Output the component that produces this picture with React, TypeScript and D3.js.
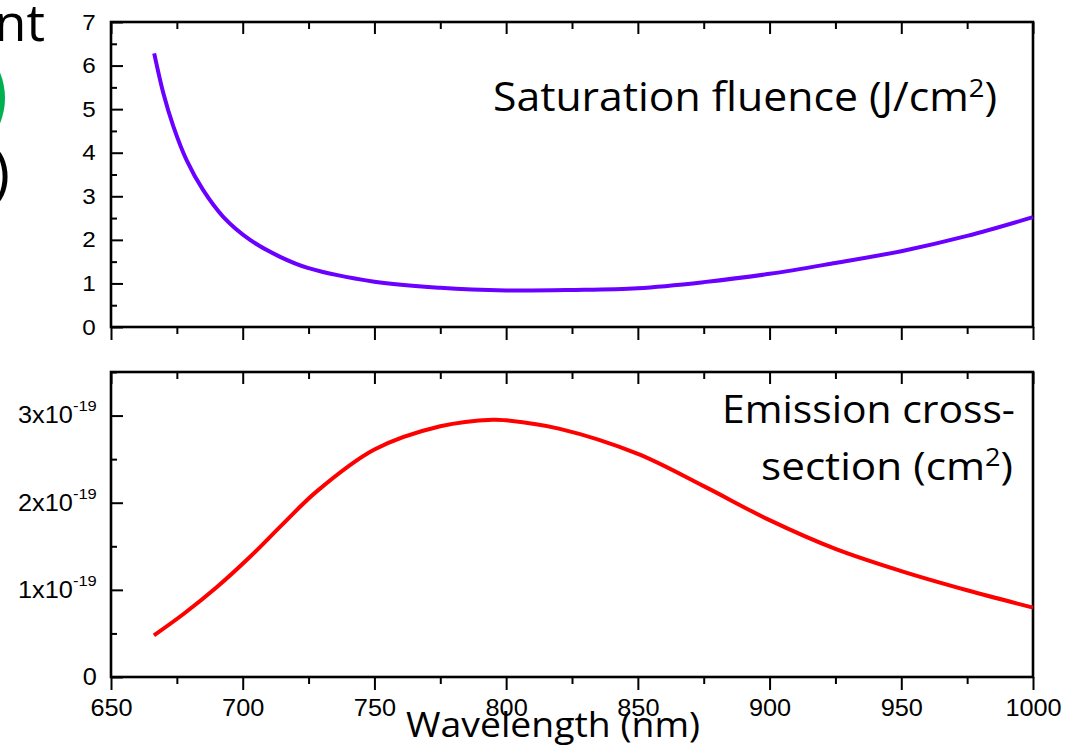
import { useEffect, useRef } from 'react';
import * as d3 from 'd3';

// ---------- data ----------
const satWavelength = [666.4, 669.9, 673.7, 678.7, 685.0, 692.6, 702.8, 714.2, 725, 750, 775, 800, 825, 850, 875, 900, 925, 950, 975, 1000];
const satFluence = [6.28, 5.36, 4.60, 3.83, 3.14, 2.53, 2.00, 1.61, 1.35, 1.04, 0.90, 0.84, 0.85, 0.89, 1.03, 1.22, 1.47, 1.74, 2.09, 2.52];

// emission cross-section, in units of 1e-19 cm^2
const emWavelength = [666.3, 677.4, 690.1, 702.8, 715.4, 728.1, 750, 775, 795, 800, 820, 850, 875, 900, 925, 950, 975, 1000];
const emCross = [0.478, 0.72, 1.03, 1.38, 1.76, 2.13, 2.61, 2.877, 2.953, 2.945, 2.85, 2.56, 2.19, 1.80, 1.47, 1.215, 0.995, 0.796];

const xMajorTicks = [650, 700, 750, 800, 850, 900, 950, 1000];
const xMinorTicks = [675, 725, 775, 825, 875, 925, 975];
const satTicks = [0, 1, 2, 3, 4, 5, 6, 7];
const satMinorTicks = [0.5, 1.5, 2.5, 3.5, 4.5, 5.5, 6.5];
const emTicks = [0, 1, 2, 3];
const emMinorTicks = [0.5, 1.5, 2.5, 3.5];
const emTickLabels = ['0', '1x10', '2x10', '3x10'];
const emTickExponent = '-19';

const App = () => {
    const svgRef = useRef<SVGSVGElement>(null);

    useEffect(() => {
        const svg = d3.select(svgRef.current);
        svg.selectAll('*').remove();

        const width = 1072;
        const height = 749;
        const left = 111;
        const right = 1033;

        svg.append('rect').attr('width', width).attr('height', height).attr('fill', 'white');

        const x = d3.scaleLinear().domain([650, 1000]).range([left, right]);
        const ySat = d3.scaleLinear().domain([0, 7]).range([327, 22]);
        const yEm = d3.scaleLinear().domain([0, 3.5]).range([677, 372]);

        const tickFont = 'Liberation Sans, Arial, sans-serif';
        const titleFont = 'Open Sans, Noto Sans, sans-serif';
        const stretch = 'scale(1.1,1)';

        const styleAxis = (g: any) => {
            g.select('.domain').remove();
            g.selectAll('.tick line').attr('stroke', '#000').attr('stroke-width', 2);
        };

        // ==========================================
        // PANEL AXES
        // ==========================================
        const drawPanel = (y: any, majors: number[], minors: number[], withXLabels: boolean) => {
            const [yBottom, yTop] = y.range();

            // left, inward
            svg.append('g')
                .attr('transform', `translate(${left},0)`)
                .call(d3.axisLeft(y).tickValues(majors).tickSize(-12).tickSizeOuter(0).tickFormat(() => ''))
                .call(styleAxis);
            svg.append('g')
                .attr('transform', `translate(${left},0)`)
                .call(d3.axisLeft(y).tickValues(minors).tickSize(-6).tickSizeOuter(0).tickFormat(() => ''))
                .call(styleAxis);

            // top, inward
            svg.append('g')
                .attr('transform', `translate(0,${yTop})`)
                .call(d3.axisTop(x).tickValues(xMajorTicks).tickSize(-12).tickSizeOuter(0).tickFormat(() => ''))
                .call(styleAxis);
            svg.append('g')
                .attr('transform', `translate(0,${yTop})`)
                .call(d3.axisTop(x).tickValues(xMinorTicks).tickSize(-7).tickSizeOuter(0).tickFormat(() => ''))
                .call(styleAxis);

            // bottom, outward
            const bottomAxis = svg.append('g')
                .attr('transform', `translate(0,${yBottom})`)
                .call(d3.axisBottom(x).tickValues(xMajorTicks).tickSize(13).tickSizeOuter(0).tickPadding(10)
                    .tickFormat(withXLabels ? (d: any) => `${d}` : () => ''))
                .call(styleAxis);
            bottomAxis.selectAll('text')
                .attr('font-family', tickFont)
                .attr('font-size', 23)
                .attr('transform', stretch)
                .attr('fill', '#000');
            svg.append('g')
                .attr('transform', `translate(0,${yBottom})`)
                .call(d3.axisBottom(x).tickValues(xMinorTicks).tickSize(7).tickSizeOuter(0).tickFormat(() => ''))
                .call(styleAxis);

            // frame
            svg.append('rect')
                .attr('x', left)
                .attr('y', yTop)
                .attr('width', right - left)
                .attr('height', yBottom - yTop)
                .attr('fill', 'none')
                .attr('stroke', '#000')
                .attr('stroke-width', 2.6);
        };

        drawPanel(ySat, satTicks, satMinorTicks, false);
        drawPanel(yEm, emTicks, emMinorTicks, true);

        // left tick labels, top panel
        svg.append('g')
            .attr('transform', `translate(${left},0)`)
            .call(d3.axisLeft(ySat).tickValues(satTicks).tickSize(0).tickPadding(14).tickFormat(d3.format('d')))
            .call((g: any) => g.select('.domain').remove())
            .selectAll('text')
            .attr('font-family', tickFont)
            .attr('font-size', 22)
            .attr('transform', stretch)
            .attr('fill', '#000');

        // left tick labels, bottom panel (with exponent)
        svg.append('g')
            .attr('transform', `translate(${left},0)`)
            .call(d3.axisLeft(yEm).tickValues(emTicks).tickSize(0).tickPadding(13).tickFormat(() => ''))
            .call((g: any) => g.select('.domain').remove())
            .selectAll('text')
            .attr('font-family', tickFont)
            .attr('font-size', 23)
            .attr('transform', stretch)
            .attr('fill', '#000')
            .each(function (d: any, i: number) {
                const t = d3.select(this);
                t.append('tspan').text(emTickLabels[i]);
                if (d !== 0) {
                    t.append('tspan').attr('dy', -12).attr('font-size', 15).text(emTickExponent);
                }
            });

        // ==========================================
        // CURVES
        // ==========================================
        const satLine = d3.line<number>()
            .x((d) => x(d))
            .y((_, i) => ySat(satFluence[i]))
            .curve(d3.curveCatmullRom.alpha(0.5));
        svg.append('path')
            .attr('d', satLine(satWavelength))
            .attr('fill', 'none')
            .attr('stroke', '#6a00ff')
            .attr('stroke-width', 4);

        const emLine = d3.line<number>()
            .x((d) => x(d))
            .y((_, i) => yEm(emCross[i]))
            .curve(d3.curveCatmullRom.alpha(0.5));
        svg.append('path')
            .attr('d', emLine(emWavelength))
            .attr('fill', 'none')
            .attr('stroke', '#ff0000')
            .attr('stroke-width', 4);

        // ==========================================
        // TEXTS
        // ==========================================
        const addLabel = (tx: number, ty: number, size: number, len: number, anchor: string, base: string, sup?: string, tail?: string) => {
            const t = svg.append('text')
                .attr('x', tx)
                .attr('y', ty)
                .attr('font-family', titleFont)
                .attr('font-size', size)
                .attr('text-anchor', anchor)
                .attr('fill', '#000')
                .attr('textLength', len)
                .attr('lengthAdjust', 'spacingAndGlyphs');
            t.append('tspan').text(base);
            if (sup) {
                t.append('tspan').attr('dy', -size * 0.36).attr('font-size', size * 0.64).text(sup);
                t.append('tspan').attr('dy', size * 0.36).text(tail || '');
            }
        };

        addLabel(997, 111, 40, 504, 'end', 'Saturation fluence (J/cm', '2', ')');
        addLabel(1015, 423, 39, 293, 'end', 'Emission cross-');
        addLabel(1013, 480, 39, 252, 'end', 'section (cm', '2', ')');
        addLabel(406, 737, 35, 294, 'start', 'Wavelength (nm)');

        // cropped slide fragments at the left edge
        svg.append('text')
            .attr('x', 45).attr('y', 41)
            .attr('text-anchor', 'end')
            .attr('font-family', titleFont)
            .attr('font-size', 52)
            .text('nt');
        svg.append('circle')
            .attr('cx', -62).attr('cy', 98).attr('r', 67)
            .attr('fill', '#00b050');
        svg.append('text')
            .attr('x', 10).attr('y', 193)
            .attr('text-anchor', 'end')
            .attr('font-family', titleFont)
            .attr('font-size', 60)
            .text(')');
    }, []);

    return (
        <svg
            ref={svgRef}
            width={1072}
            height={749}
            style={{ position: 'absolute', left: 0, top: 0, display: 'block' }}
        />
    );
};

export default App;
